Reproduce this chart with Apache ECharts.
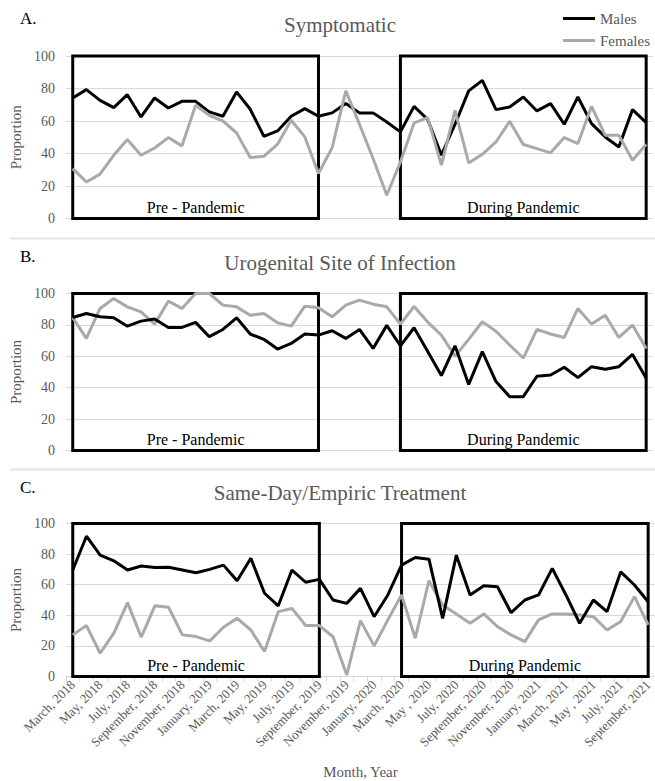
<!DOCTYPE html>
<html>
<head>
<meta charset="utf-8">
<script src="https://cdn.jsdelivr.net/npm/echarts@6/dist/echarts.min.js"></script>
<style>
html,body{margin:0;padding:0;background:#fff;}
#chart{width:655px;height:781px;}
</style>
</head>
<body>
<div id="chart"></div>
<script>
// Categories: March 2018 – September 2021
var months = [
  "March, 2018","April, 2018","May, 2018","June, 2018","July, 2018","August, 2018","September, 2018","October, 2018","November, 2018","December, 2018",
  "January, 2019","February, 2019","March, 2019","April, 2019","May, 2019","June, 2019","July, 2019","August, 2019","September, 2019","October, 2019","November, 2019","December, 2019",
  "January, 2020","February, 2020","March, 2020","April, 2020","May , 2020","June, 2020","July, 2020","August, 2020","September, 2020","October, 2020","November, 2020","December, 2020",
  "January, 2021","February, 2021","March, 2021","April, 2021","May , 2021","June, 2021","July, 2021","August, 2021","September, 2021"
];
var yTicks = [0, 20, 40, 60, 80, 100];

// A. Symptomatic
var symptomaticMales = [74.2,79.3,72.7,68.2,76.2,62.5,74.2,68.0,72.1,72.1,65.6,62.9,77.9,67.2,50.6,53.9,62.9,67.6,62.9,65.0,70.7,65.0,65.0,59.4,53.3,69.0,60.9,39.0,58.0,78.5,85.0,67.0,68.6,74.8,66.2,70.7,58.0,74.8,58.4,50.2,44.0,67.0,59.0];
var symptomaticFemales = [30.7,22.5,27.3,38.9,48.6,38.9,43.4,49.8,44.7,69.7,63.5,60.0,52.7,37.5,38.3,45.7,60.5,50.2,27.7,43.6,78.5,58.0,36.9,14.3,34.8,58.8,62.1,32.8,66.6,34.2,39.5,47.1,59.8,45.5,43.0,40.4,49.8,46.1,69.0,51.2,51.2,35.9,45.7];

// B. Urogenital Site of Infection
var urogenitalMales = [84.7,87.3,85.2,84.5,79.2,82.4,83.7,78.4,78.4,81.6,72.5,77.1,84.5,74.2,70.8,64.6,68.2,74.2,73.5,76.3,71.4,77.1,65.0,79.7,66.7,78.2,63.0,47.7,66.7,42.1,63.0,43.9,34.3,34.3,47.3,48.1,53.0,46.4,53.4,51.7,53.4,61.2,46.0];
var urogenitalFemales = [84.7,71.4,90.5,96.8,91.5,88.3,80.5,95.1,90.5,100,100,92.6,91.5,86.2,87.3,81.4,79.2,91.9,90.9,85.2,92.6,95.8,93.2,91.5,80.6,91.7,81.8,73.5,60.0,70.8,82.0,76.0,67.2,58.9,77.2,74.2,72.0,90.5,80.5,86.2,72.0,79.9,65.0];

// C. Same-Day/Empiric Treatment
var treatmentMales = [69.6,91.7,79.3,75.6,69.6,72.2,71.2,71.4,69.6,67.8,70.0,72.8,62.6,77.3,54.4,46.2,69.6,61.6,63.5,50.0,47.8,57.6,39.1,53.3,72.8,77.8,76.7,38.0,79.3,53.3,59.3,58.7,41.7,50.0,53.3,70.7,53.3,34.8,50.0,42.4,68.4,59.8,48.9];
var treatmentFemales = [27.2,33.3,15.2,28.3,48.3,25.7,46.3,45.2,27.2,26.1,23.3,32.2,38.0,30.4,16.3,42.4,44.5,33.3,33.3,26.0,1.0,36.5,20.0,37.0,53.3,25.0,62.6,46.7,40.9,34.8,40.9,32.6,27.2,22.8,37.0,40.9,40.9,40.2,39.1,30.4,35.9,52.2,33.7];

var panelTitles = ["Symptomatic","Urogenital Site of Infection","Same-Day/Empiric Treatment"];
var panelLetters = ["A.","B.","C."];
var periodLabels = ["Pre - Pandemic","During Pandemic"];
var prePeriod = [0, 18];
var duringPeriod = [24, 42];

var SERIF = "Liberation Serif";
var MALE = "#000000", FEMALE = "#a9a9a9", GREY_TXT = "#595959";

var grids = [
  {left: 56, right: 2, top: 56, height: 162.5},
  {left: 56.5, right: 2, top: 293.5, height: 157},
  {left: 61, right: 0, top: 523.5, height: 153}
];

function makeX(i) {
  var last = i === 2;
  return {
    type: 'category', gridIndex: i, data: months, boundaryGap: true,
    axisLine: {show: true, lineStyle: {color: '#d9d9d9', width: 1}},
    axisTick: {show: last, interval: 0, length: 5, lineStyle: {color: '#d9d9d9'}},
    axisLabel: last ? {show: true, interval: 1, rotate: 45, fontFamily: SERIF, fontSize: 13, color: GREY_TXT, margin: 6} : {show: false},
    name: last ? 'Month, Year' : '', nameLocation: 'middle', nameGap: 88,
    nameTextStyle: {fontFamily: SERIF, fontSize: 15, color: GREY_TXT}
  };
}
function makeY(i) {
  return {
    type: 'value', gridIndex: i, min: yTicks[0], max: yTicks[yTicks.length - 1], interval: 20,
    axisLine: {show: false}, axisTick: {show: false},
    splitLine: {lineStyle: {color: '#d9d9d9', width: 1}},
    axisLabel: {fontFamily: SERIF, fontSize: 14, color: GREY_TXT, margin: 11},
    name: 'Proportion', nameLocation: 'middle', nameRotate: 90, nameGap: 30,
    nameTextStyle: {fontFamily: SERIF, fontSize: 15, color: GREY_TXT}
  };
}
function box(range, label) {
  return [{xAxis: months[range[0]], yAxis: 100, label: {show: true, position: 'insideBottom', distance: 5, formatter: label, fontFamily: SERIF, fontSize: 16, color: '#000'}},
          {xAxis: months[range[1]], yAxis: 0}];
}
function lineSeries(name, data, i, color, z, withBoxes) {
  var s = {
    name: name, type: 'line', xAxisIndex: i, yAxisIndex: i, data: data,
    symbol: 'none', lineStyle: {color: color, width: 3}, itemStyle: {color: color},
    z: z, animation: false
  };
  if (withBoxes) {
    s.markArea = {
      silent: true,
      itemStyle: {color: 'rgba(0,0,0,0)', borderColor: '#000', borderWidth: 3},
      data: [box(prePeriod, periodLabels[0]), box(duringPeriod, periodLabels[1])]
    };
  }
  return s;
}

var seriesData = [
  [symptomaticMales, symptomaticFemales],
  [urogenitalMales, urogenitalFemales],
  [treatmentMales, treatmentFemales]
];
var series = [];
for (var i = 0; i < 3; i++) {
  var femaleOnTop = (i === 0);
  series.push(lineSeries('Males', seriesData[i][0], i, MALE, femaleOnTop ? 3 : 4, true));
  series.push(lineSeries('Females', seriesData[i][1], i, FEMALE, femaleOnTop ? 4 : 3, false));
}

var titleY = [25, 263, 493];
var letterY = [18, 256, 487];
var graphics = [];
for (var k = 0; k < 3; k++) {
  graphics.push({type: 'text', x: 340, y: titleY[k], style: {text: panelTitles[k], font: '21px "Liberation Serif"', fill: GREY_TXT, textAlign: 'center', textVerticalAlign: 'middle'}});
  graphics.push({type: 'text', x: 20, y: letterY[k], style: {text: panelLetters[k], font: '17px "Liberation Serif"', fill: '#000', textAlign: 'left', textVerticalAlign: 'middle'}});
}
graphics.push({type: 'line', shape: {x1: 10, y1: 238.5, x2: 655, y2: 238.5}, style: {stroke: '#e3e3e3', lineWidth: 2}});
graphics.push({type: 'line', shape: {x1: 10, y1: 469.5, x2: 655, y2: 469.5}, style: {stroke: '#e3e3e3', lineWidth: 2}});

var chart = echarts.init(document.getElementById('chart'), null, {renderer: 'svg', width: 655, height: 781});
chart.setOption({
  animation: false,
  backgroundColor: '#fff',
  grid: grids,
  xAxis: [makeX(0), makeX(1), makeX(2)],
  yAxis: [makeY(0), makeY(1), makeY(2)],
  legend: {
    data: ['Males', 'Females'], orient: 'vertical', right: 0, top: 6,
    icon: 'rect', itemWidth: 32, itemHeight: 3, itemGap: 7,
    textStyle: {fontFamily: SERIF, fontSize: 15, color: GREY_TXT}
  },
  graphic: graphics,
  series: series
});
</script>
</body>
</html>
